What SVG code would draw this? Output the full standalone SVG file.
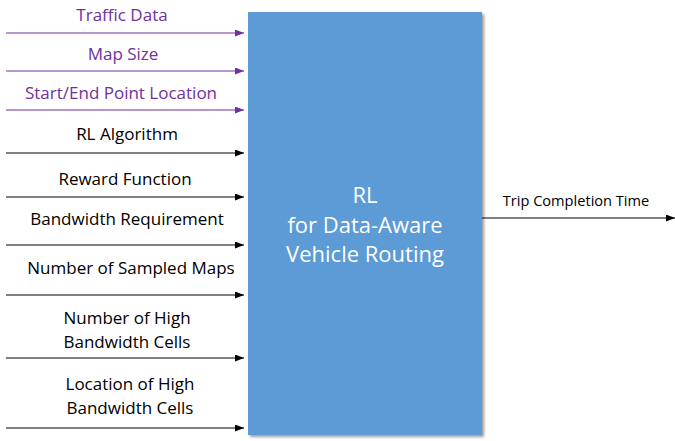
<svg xmlns="http://www.w3.org/2000/svg" width="675" height="441" viewBox="0 0 675 441">
<style>
.lbl{font-family:"Open Sans","Noto Sans",sans-serif;font-size:17px;text-anchor:middle;fill:#000}
.p{fill:#7030A0}
.in{stroke:#000;stroke-width:1;fill:none;marker-end:url(#ab)}
.inp{stroke:#7030A0;stroke-width:1;fill:none;marker-end:url(#ap)}
.box{fill:#5B9BD5}
.bt{font-family:"Open Sans","Noto Sans",sans-serif;font-size:22px;fill:#fff;text-anchor:middle}
</style>
<defs>
<marker id="ab" markerWidth="9" markerHeight="7" refX="9" refY="3.5" orient="auto" markerUnits="userSpaceOnUse"><path d="M0,0 L9,3.5 L0,7 Z" fill="#000"/></marker>
<marker id="ap" markerWidth="9" markerHeight="7" refX="9" refY="3.5" orient="auto" markerUnits="userSpaceOnUse"><path d="M0,0 L9,3.5 L0,7 Z" fill="#7030A0"/></marker>
<filter id="sh" x="-5%" y="-5%" width="115%" height="115%"><feGaussianBlur in="SourceAlpha" stdDeviation="1.5"/><feOffset dx="1.5" dy="1.5"/><feComponentTransfer><feFuncA type="linear" slope="0.4"/></feComponentTransfer><feMerge><feMergeNode/><feMergeNode in="SourceGraphic"/></feMerge></filter>
</defs>
<g id="connectors">
<line class="inp" x1="6" y1="33" x2="244" y2="33"/>
<line class="inp" x1="6" y1="71" x2="244" y2="71"/>
<line class="inp" x1="6" y1="110" x2="244" y2="110"/>
<line class="in" x1="6" y1="153" x2="244" y2="153"/>
<line class="in" x1="6" y1="197" x2="244" y2="197"/>
<line class="in" x1="6" y1="245" x2="244" y2="245"/>
<line class="in" x1="6" y1="295" x2="244" y2="295"/>
<line class="in" x1="6" y1="358" x2="244" y2="358"/>
<line class="in" x1="6" y1="428" x2="244" y2="428"/>
<line class="in" x1="482" y1="218" x2="675" y2="218"/>
</g>
<g id="labels">
<text class="lbl p" x="122" y="21">Traffic Data</text>
<text class="lbl p" x="123" y="60">Map Size</text>
<text class="lbl p" x="121" y="99">Start/End Point Location</text>
<text class="lbl" x="127" y="140">RL Algorithm</text>
<text class="lbl" x="125" y="185">Reward Function</text>
<text class="lbl" x="127" y="225">Bandwidth Requirement</text>
<text class="lbl" x="131" y="274">Number of Sampled Maps</text>
<text class="lbl" x="127" y="324">Number of High</text>
<text class="lbl" x="127" y="348">Bandwidth Cells</text>
<text class="lbl" x="130" y="390">Location of High</text>
<text class="lbl" x="130" y="414">Bandwidth Cells</text>
<text class="lbl" x="576" y="206" style="font-size:14.6px">Trip Completion Time</text>
</g>
<g id="rl-box">
<rect class="box" x="248" y="12" width="234" height="423" filter="url(#sh)"/>
<text class="bt" x="365" y="203">RL</text>
<text class="bt" x="365" y="233">for Data-Aware</text>
<text class="bt" x="365" y="262">Vehicle Routing</text>
</g>
</svg>
